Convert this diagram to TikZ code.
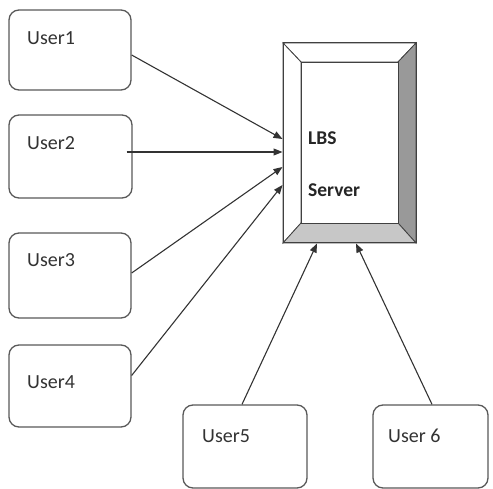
\documentclass[tikz,border=0pt]{standalone}
\usepackage{fontspec}
\setmainfont{Carlito}
\usetikzlibrary{arrows.meta}
\begin{document}
\begin{tikzpicture}[x=1pt,y=-1pt,
  userbox/.style={draw=black!65,line width=1.3pt,rounded corners=10pt,fill=white,inner sep=0pt},
  usertxt/.style={anchor=base west,inner sep=0pt,text=black!80,font=\fontsize{20}{23}\selectfont},
  srvtxt/.style={anchor=base west,inner sep=0pt,text=black!85,font=\fontsize{19.5}{22}\selectfont\bfseries},
  conn/.style={draw=black!80,line width=1.1pt,-{Triangle[length=9pt,width=7pt]}},
  bevel/.style={draw=black!75,line width=0.8pt}]
\useasboundingbox (0,0) rectangle (493,489);
% user boxes
\node[userbox,minimum width=122pt,minimum height=80pt] (u1) at (70,50) {};
\node[userbox,minimum width=123pt,minimum height=83pt] (u2) at (70.5,156.5) {};
\node[userbox,minimum width=122pt,minimum height=85pt] (u3) at (70,275.5) {};
\node[userbox,minimum width=122pt,minimum height=82pt] (u4) at (70,386) {};
\node[userbox,minimum width=124pt,minimum height=83pt] (u5) at (245,446.5) {};
\node[userbox,minimum width=115pt,minimum height=83pt] (u6) at (430.5,446.5) {};
\node[usertxt] (t1) at (27,45) {User1};
\node[usertxt] (t2) at (27,150) {User2};
\node[usertxt] (t3) at (27,267) {User3};
\node[usertxt] (t4) at (27,388) {User4};
\node[usertxt] (t5) at (202,442) {User5};
\node[usertxt] (t6) at (388,442) {User 6};
% server
\node[draw=black!75,line width=1pt,minimum width=133pt,minimum height=200pt,inner sep=0pt] (srv) at (349.5,143) {};
\coordinate (o1) at (283,43); \coordinate (o2) at (416,43);
\coordinate (o3) at (416,243); \coordinate (o4) at (283,243);
\coordinate (i1) at (301,62); \coordinate (i2) at (398,62);
\coordinate (i3) at (398,223); \coordinate (i4) at (301,223);
\filldraw[bevel,fill=white] (o1) -- (o2) -- (i2) -- (i1) -- cycle;
\filldraw[bevel,fill=white] (o1) -- (i1) -- (i4) -- (o4) -- cycle;
\filldraw[bevel,fill=black!40] (o2) -- (o3) -- (i3) -- (i2) -- cycle;
\filldraw[bevel,fill=black!22] (o4) -- (i4) -- (i3) -- (o3) -- cycle;
\draw[draw=black!75,line width=1pt] (o1) rectangle (o3);
\draw[bevel,fill=white] (i1) rectangle (i3);
\node[srvtxt] (lbs) at (308,145) {LBS};
\node[srvtxt] (srvname) at (308,197) {Server};
% connectors
\draw[conn] ([yshift=-5pt]u1.east) -- ([yshift=4pt]srv.west);
\draw[conn] ([xshift=-6pt,yshift=4.5pt]u2.east) -- ([yshift=-9pt]srv.west);
\draw[conn] ([yshift=2.5pt]u3.east) -- ([yshift=-24pt]srv.west);
\draw[conn] ([yshift=10.5pt]u4.east) -- ([yshift=-42pt]srv.west);
\draw[conn] ([xshift=-3pt]u5.north) -- ([xshift=-32.5pt]srv.south);
\draw[conn] ([xshift=1.5pt]u6.north) -- ([xshift=6.5pt]srv.south);
\end{tikzpicture}
\end{document}
